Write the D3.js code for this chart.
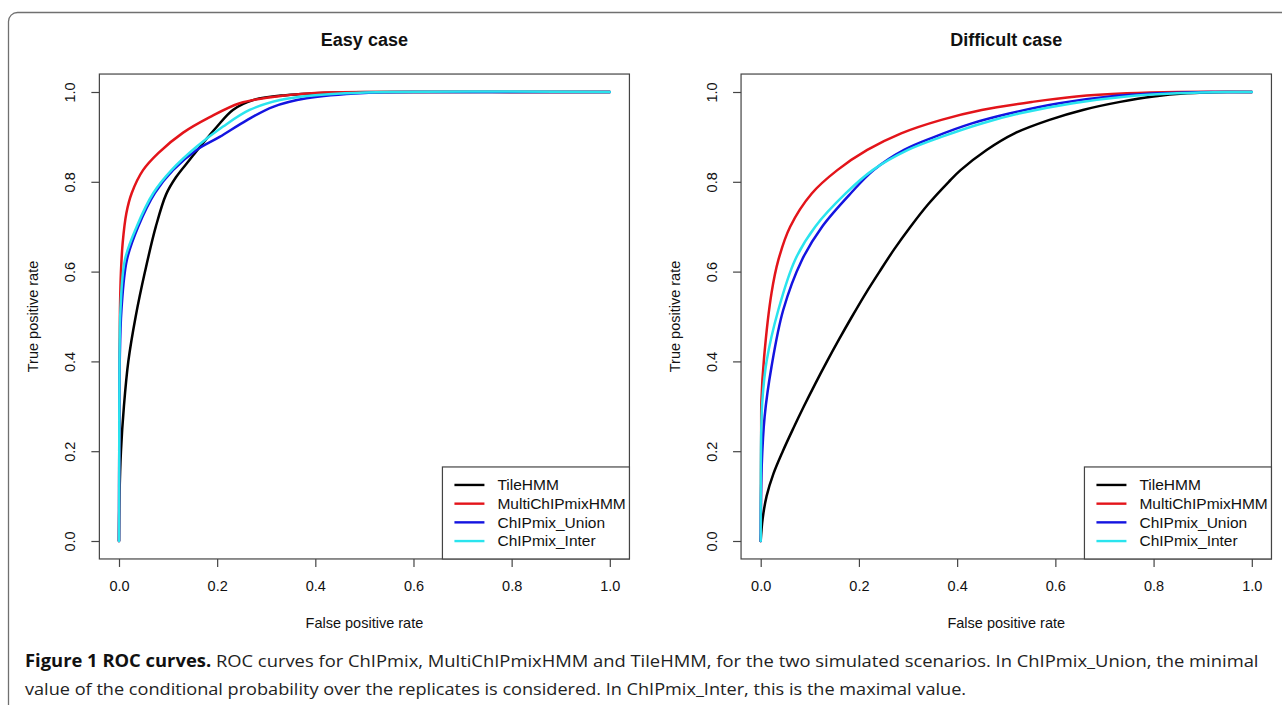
<!DOCTYPE html>
<html>
<head>
<meta charset="utf-8">
<script src="https://cdn.jsdelivr.net/npm/d3@7"></script>
<style>
  html, body { margin: 0; padding: 0; background: #fff; }
  svg { display: block; }
</style>
</head>
<body>
<svg id="chart" width="1282" height="705"></svg>
<script>
// ---------------- data ----------------
const seriesNames = ["TileHMM", "MultiChIPmixHMM", "ChIPmix_Union", "ChIPmix_Inter"];
const seriesColors = ["#000000", "#e3141a", "#1414e0", "#2ae4ee"];
const panelTitles = ["Easy case", "Difficult case"];
const tickValues = [0, 0.2, 0.4, 0.6, 0.8, 1.0];
const xLabel = "False positive rate";
const yLabel = "True positive rate";

// Easy case: [false positive rate, true positive rate]
const easyTile = [[0,0],[0.001,0.1],[0.004,0.2],[0.01,0.3],[0.019,0.4],[0.034,0.5],[0.053,0.6],[0.075,0.7],[0.096,0.772],[0.116,0.81],[0.144,0.849],[0.171,0.886],[0.199,0.922],[0.232,0.96],[0.273,0.982],[0.34,0.993],[0.45,0.999],[0.6,1],[1,1]];
const easyMulti = [[0,0],[0.0005,0.2],[0.001,0.4],[0.002,0.515],[0.004,0.6],[0.0075,0.664],[0.015,0.73],[0.026,0.775],[0.049,0.826],[0.08,0.864],[0.13,0.909],[0.185,0.944],[0.246,0.975],[0.313,0.989],[0.4,0.998],[0.55,1],[1,1]];
const easyUnion = [[0,0],[0.0005,0.2],[0.0015,0.4],[0.005,0.515],[0.016,0.626],[0.039,0.70],[0.073,0.775],[0.11,0.826],[0.158,0.871],[0.205,0.90],[0.26,0.937],[0.314,0.967],[0.382,0.986],[0.5,0.998],[0.65,1],[1,1]];
const easyInter = [[0,0],[0.0005,0.2],[0.001,0.4],[0.003,0.515],[0.012,0.626],[0.036,0.70],[0.07,0.775],[0.107,0.826],[0.158,0.878],[0.212,0.923],[0.266,0.96],[0.328,0.982],[0.4,0.993],[0.55,1],[1,1]];

// Difficult case
const diffTile = [[0,0],[0.004,0.05],[0.012,0.1],[0.026,0.15],[0.045,0.2],[0.066,0.25],[0.088,0.3],[0.111,0.35],[0.135,0.4],[0.16,0.45],[0.186,0.5],[0.213,0.55],[0.242,0.6],[0.272,0.65],[0.305,0.7],[0.341,0.75],[0.383,0.8],[0.407,0.826],[0.46,0.871],[0.517,0.908],[0.588,0.938],[0.656,0.96],[0.732,0.978],[0.80,0.99],[0.868,0.997],[0.95,1],[1,1]];
const diffMulti = [[0,0],[0.001,0.24],[0.0015,0.314],[0.007,0.41],[0.022,0.552],[0.036,0.626],[0.06,0.70],[0.104,0.774],[0.156,0.826],[0.217,0.871],[0.286,0.908],[0.368,0.938],[0.45,0.96],[0.553,0.978],[0.643,0.99],[0.745,0.997],[0.85,1],[1,1]];
const diffUnion = [[0,0],[0.002,0.165],[0.008,0.277],[0.022,0.388],[0.046,0.515],[0.084,0.626],[0.125,0.70],[0.183,0.774],[0.23,0.826],[0.292,0.871],[0.354,0.90],[0.43,0.93],[0.506,0.952],[0.608,0.975],[0.711,0.99],[0.814,0.997],[0.92,1],[1,1]];
const diffInter = [[0,0],[0.001,0.24],[0.0035,0.314],[0.012,0.40],[0.036,0.515],[0.07,0.626],[0.111,0.70],[0.173,0.774],[0.228,0.826],[0.30,0.871],[0.368,0.90],[0.45,0.93],[0.526,0.952],[0.636,0.975],[0.745,0.99],[0.848,0.997],[0.95,1],[1,1]];

const captionBold = "Figure 1 ROC curves.";
const captionLine1 = " ROC curves for ChIPmix, MultiChIPmixHMM and TileHMM, for the two simulated scenarios. In ChIPmix_Union, the minimal";
const captionLine2 = "value of the conditional probability over the replicates is considered. In ChIPmix_Inter, this is the maximal value.";

// ---------------- layout ----------------
const svg = d3.select("#chart");
const FONT = "'Liberation Sans', Arial, Helvetica, sans-serif";

svg.append("rect").attr("x", 8.5).attr("y", 12.5).attr("width", 1320).attr("height", 800)
  .attr("rx", 9).attr("fill", "none").attr("stroke", "#707070").attr("stroke-width", 1.3);

const panels = [
  { title: panelTitles[0], series: [easyTile, easyMulti, easyUnion, easyInter], x0: 119, x1: 609.8 },
  { title: panelTitles[1], series: [diffTile, diffMulti, diffUnion, diffInter], x0: 760.7, x1: 1251.8 }
];
const yTop = 92, yBottom = 541;

panels.forEach(p => {
  const x = d3.scaleLinear().domain([0, 1]).range([p.x0, p.x1]);
  const y = d3.scaleLinear().domain([0, 1]).range([yBottom, yTop]);
  const bx0 = x(-0.04), bx1 = x(1.04), by0 = y(1.04), by1 = y(-0.04);
  const g = svg.append("g");

  // curves
  const line = d3.line().x(d => x(d[0])).y(d => y(d[1])).curve(d3.curveCatmullRom.alpha(0.5));
  p.series.forEach((s, i) => {
    g.append("path").datum(s).attr("d", line).attr("fill", "none")
      .attr("stroke", seriesColors[i]).attr("stroke-width", 2.5)
      .attr("stroke-linejoin", "round").attr("stroke-linecap", "round");
  });

  // box
  g.append("rect").attr("x", bx0).attr("y", by0).attr("width", bx1 - bx0).attr("height", by1 - by0)
    .attr("fill", "none").attr("stroke", "#444").attr("stroke-width", 1.2);

  // x axis
  const xa = g.append("g").attr("transform", `translate(0,${by1})`)
    .call(d3.axisBottom(x).tickValues(tickValues).tickFormat(d3.format(".1f")).tickSize(8).tickPadding(14));
  xa.select(".domain").remove();
  xa.selectAll(".tick line").attr("stroke", "#444").attr("stroke-width", 1.2);
  xa.selectAll(".tick text").attr("font-family", FONT).attr("font-size", 14.5).attr("fill", "#111");

  // y axis
  const ya = g.append("g").attr("transform", `translate(${bx0},0)`)
    .call(d3.axisLeft(y).tickValues(tickValues).tickFormat(d3.format(".1f")).tickSize(8));
  ya.select(".domain").remove();
  ya.selectAll(".tick line").attr("stroke", "#444").attr("stroke-width", 1.2);
  ya.selectAll(".tick text").attr("font-family", FONT).attr("font-size", 14.5).attr("fill", "#111")
    .attr("x", null).attr("dy", null)
    .attr("text-anchor", "middle")
    .attr("transform", "translate(-29,0) rotate(-90)")
    .attr("dy", "0.35em");

  const cx = (p.x0 + p.x1) / 2;
  // title
  g.append("text").attr("x", cx).attr("y", 46).attr("text-anchor", "middle")
    .attr("font-family", FONT).attr("font-weight", "bold").attr("font-size", 18).attr("fill", "#111")
    .text(p.title);
  // x label
  g.append("text").attr("x", cx).attr("y", 628).attr("text-anchor", "middle")
    .attr("font-family", FONT).attr("font-size", 14.5).attr("fill", "#111").text(xLabel);
  // y label
  g.append("text").attr("transform", `translate(${bx0 - 61},${(yTop + yBottom) / 2}) rotate(-90)`)
    .attr("text-anchor", "middle").attr("font-family", FONT).attr("font-size", 14.5).attr("fill", "#111")
    .text(yLabel);

  // legend (bottom right)
  const lw = 187, lh = 92;
  const lg = g.append("g").attr("transform", `translate(${bx1 - lw},${by1 - lh})`);
  lg.append("rect").attr("width", lw).attr("height", lh).attr("fill", "#fff")
    .attr("stroke", "#444").attr("stroke-width", 1.2);
  seriesNames.forEach((n, i) => {
    const ry = 18 + i * 18.7;
    lg.append("line").attr("x1", 12).attr("x2", 42).attr("y1", ry).attr("y2", ry)
      .attr("stroke", seriesColors[i]).attr("stroke-width", 2.4);
    lg.append("text").attr("x", 55).attr("y", ry).attr("dy", "0.35em")
      .attr("font-family", FONT).attr("font-size", 15.5).attr("fill", "#111").text(n);
  });
});

// caption
const CAPFONT = "'Open Sans', 'Noto Sans', sans-serif";
function fitLine(sel, targetW, x0, yb) {
  const w = sel.node().getComputedTextLength();
  sel.attr("transform", `translate(${x0},${yb}) scale(${targetW / w},1)`);
}
const c1 = svg.append("text").attr("font-family", CAPFONT).attr("font-size", 17).attr("fill", "#222");
c1.append("tspan").attr("font-weight", "bold").attr("fill", "#111").text(captionBold);
c1.append("tspan").text(captionLine1);
fitLine(c1, 1235, 25, 667);
const c2 = svg.append("text").attr("font-family", CAPFONT).attr("font-size", 17).attr("fill", "#222")
  .text(captionLine2);
fitLine(c2, 942, 25, 695);
</script>
</body>
</html>
